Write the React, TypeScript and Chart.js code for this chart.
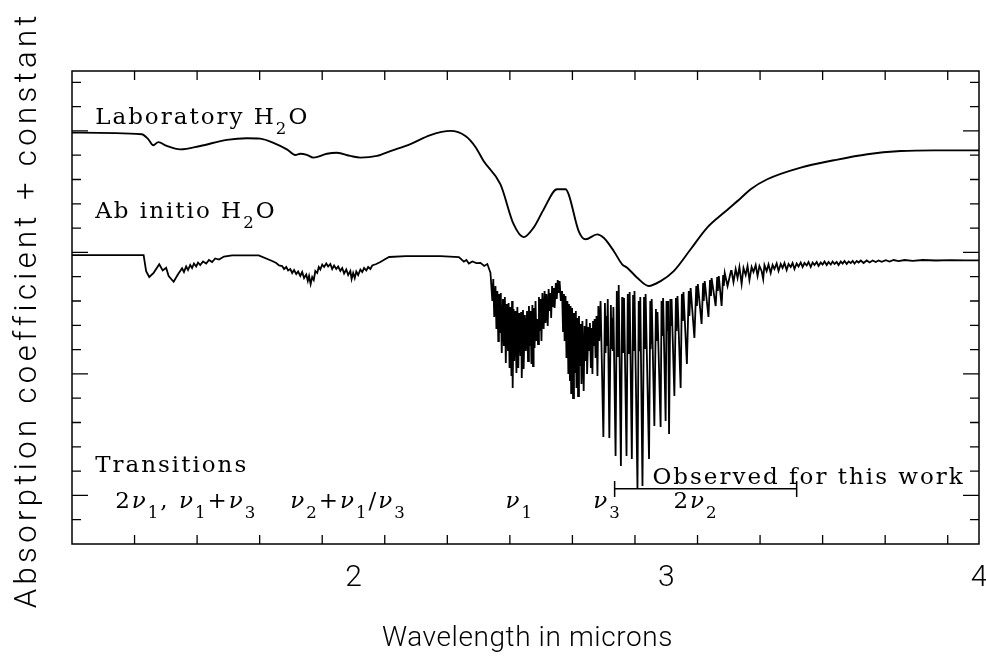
import React, { useEffect, useRef } from 'react';
import { Chart, registerables } from 'chart.js';

Chart.register(...registerables);

// ---------------- DATA ----------------
// Laboratory H2O (smooth measured spectrum), wavelength in microns
const labWavelength = [1.100,1.323,1.343,1.360,1.376,1.403,1.446,1.510,1.595,1.659,1.702,1.744,1.787,1.814,1.830,1.851,1.872,1.915,1.947,1.990,2.022,2.075,2.118,2.182,2.246,2.310,2.358,2.390,2.416,2.470,2.512,2.544,2.576,2.608,2.651,2.678,2.688,2.720,2.742,2.779,2.800,2.832,2.859,2.875,2.907,2.944,2.982,3.024,3.078,3.131,3.184,3.238,3.270,3.323,3.430,3.536,3.643,3.750,3.856,4.000];
const labAbsorption = [16.93,16.86,16.67,16.41,16.54,16.38,16.24,16.38,16.63,16.70,16.68,16.51,16.24,16.01,16.06,16.01,15.90,16.06,16.10,15.97,15.90,15.97,16.17,16.46,16.83,17.00,16.79,16.34,15.76,14.80,13.16,12.63,13.02,13.77,14.60,14.60,14.39,12.88,12.54,12.74,12.60,12.06,11.51,11.37,10.96,10.62,10.82,11.23,12.13,13.02,13.63,14.23,14.60,15.01,15.49,15.79,16.04,16.17,16.20,16.20];

// Ab initio H2O — overtone / combination region
const abOvertoneWavelength = [1.100,1.329,1.337,1.347,1.361,1.379,1.390,1.401,1.409,1.425,1.439,
  1.452,1.458,1.465,1.471,1.478,1.484,1.490,1.497,1.503,1.510,1.519,1.529,1.538,1.548,1.558,1.570,1.586,1.612,
  1.697,
  1.740,1.753,1.762,1.772,1.778,1.785,1.791,1.798,1.804,1.810,1.817,1.823,1.830,1.836,1.842,1.849,1.854,1.858,1.863,1.868,1.873,1.878,1.884,1.889,1.894,1.900,1.906,1.913,1.919,1.926,1.932,1.938,1.945,1.951,1.958,1.964,1.970,1.977,1.983,1.990,1.994,1.999,2.004,2.009,2.015,2.022,2.028,2.034,2.041,2.047,2.054,2.060,2.073,2.086,2.102,2.114,
  2.167,2.278,2.337,2.353,2.361,2.369,2.380,2.393,2.406,2.418,2.428,2.438];
const abOvertoneAbsorption = [11.89,11.89,11.23,10.99,11.16,11.51,11.26,11.37,11.03,10.79,11.10,
  11.346,11.193,11.420,11.276,11.481,11.358,11.543,11.420,11.584,11.481,11.625,11.543,11.687,11.605,11.749,11.708,11.831,11.881,
  11.88,
  11.646,11.564,11.461,11.440,11.317,11.399,11.255,11.317,11.152,11.276,11.111,11.214,11.029,11.193,10.946,11.091,10.823,11.029,10.700,10.988,10.864,11.235,11.152,11.399,11.296,11.502,11.399,11.543,11.420,11.523,11.317,11.461,11.317,11.420,11.235,11.358,11.132,11.296,11.070,11.235,10.905,11.152,10.946,11.214,11.070,11.296,11.193,11.358,11.255,11.399,11.317,11.461,11.523,11.605,11.728,11.811,
  11.85,11.85,11.81,11.62,11.69,11.54,11.63,11.56,11.57,11.44,11.52,11.16];

// Ab initio — nu1 band
const abNu1Wavelength = [2.444,2.447,2.450,2.454,2.457,2.460,2.463,2.465,2.468,2.471,2.474,2.478,2.481,2.484,2.487,2.490,2.494,2.496,2.499,2.502,2.505,2.507,2.509,2.512,2.514,2.518,2.521,2.524,2.527,2.530,2.534,2.536,2.538,2.542,2.544,2.548,2.551,2.555,2.558,2.561,2.564,2.566,2.569,2.572,2.574,2.576,2.579,2.582,2.585,2.587,2.590,2.593,2.595,2.598,2.601,2.604,2.608,2.611,2.614,2.617,2.621,2.624,2.627,2.630,2.632,2.635,2.638,2.641,2.643,2.647,2.650,2.653,2.656,2.659];
const abNu1Absorption = [10.00,10.905,9.342,10.617,8.848,10.412,8.354,10.288,8.683,10.329,7.860,10.082,8.148,10.165,7.449,9.877,7.942,9.918,7.243,9.753,6.914,10.00,6.420,9.671,7.531,9.588,7.037,9.753,7.243,9.506,7.737,9.547,6.831,9.630,7.202,9.424,7.942,9.588,7.531,9.794,8.148,9.588,7.408,9.835,7.325,9.712,8.066,10.00,8.354,9.259,8.231,10.165,8.765,10.082,8.354,10.329,8.848,10.412,9.095,10.288,8.971,10.494,9.588,10.329,9.300,10.617,9.794,10.535,9.712,10.741,10.082,10.864,10.329,10.823];

// Ab initio — nu3 band
const abNu3Wavelength = [2.663,2.667,2.670,2.673,2.675,2.678,2.681,2.684,2.687,2.689,2.692,2.694,2.696,2.699,2.702,2.705,2.708,2.711,2.713,2.716,2.718,2.721,2.723,2.726,2.729,2.732,2.736,2.739,2.742,2.745,2.747,2.751,2.753,2.756,2.759,2.761,2.764,2.766,2.769,2.771,2.774,2.777,2.780,2.783,2.786,2.790];
const abNu3Absorption = [10.00,10.412,8.765,10.288,8.354,10.206,7.654,10.00,7.037,9.877,6.708,9.794,6.173,9.712,6.008,9.506,7.037,9.588,6.420,9.300,6.091,9.383,7.325,9.054,6.585,9.177,6.296,8.971,7.531,9.259,6.996,8.930,7.942,9.095,7.243,8.889,6.996,9.177,8.148,9.259,7.654,9.383,6.914,9.794,8.354,10.00];

// Ab initio — 2nu2 line comb
const abCombWavelength = [2.799,2.804,2.806,2.808,2.810,2.813, 2.818,2.823,2.825,2.827,2.829,2.831, 2.838,2.842,2.8435,2.845,2.8465,2.848, 2.855,2.859,2.8605,2.862,2.8635,2.865, 2.873,2.877,2.8785,2.880,2.8815,2.883, 2.890,2.894,2.8955,2.897,2.898,2.899, 2.908,2.912,2.913,2.9145,2.916,2.917, 2.924,2.929,2.930,2.9315,2.933,2.934, 2.945,2.949,2.950,2.9515,2.953,2.954,
  2.962,2.967,2.969,2.972,2.982,2.985,2.987,2.990,2.998,3.001,3.003,3.006,3.009,3.013,3.015,3.017,3.026,3.031,3.033,3.036,3.046,3.050,3.053,3.055,3.066,3.072,3.074,3.078,3.090,3.096,3.098,3.101,3.113,3.118,3.120,3.123,3.135,3.140,3.143,3.145,3.158,3.163,3.165,3.168,3.177,3.182,3.184,3.187,3.196,3.207];
const abCombAbsorption = [4.404,9.918,7.860,9.383,8.148,10.082, 4.362,9.835,8.025,9.300,7.942,9.753, 3.622,10.412,7.737,9.424,8.066,10.658, 3.210,10.165,8.148,9.342,7.860,10.123, 3.622,10.288,7.860,9.424,8.025,10.370, 3.498,10.247,7.942,9.342,8.148,10.412, 2.305,10.00,8.148,9.465,7.942,10.165, 2.387,10.165,8.354,9.506,8.066,10.288, 3.498,10.00,8.025,9.424,8.231,10.082,
  4.856,9.671,8.354,9.547,4.815,10.00,8.560,10.123,5.062,10.00,8.765,10.00,4.527,10.082,8.971,10.082,6.091,10.123,8.765,10.206,6.420,10.288,9.177,10.370,7.408,10.412,9.383,10.535,8.477,10.617,9.794,10.700,9.054,10.741,10.00,10.823,9.342,10.864,10.206,10.946,9.794,10.988,10.412,11.029,9.794,11.070,10.617,11.152,10.617,11.235];

// Ab initio — long-wavelength tail
const abTailWavelength = [3.209,3.215,3.222,3.228,3.234,3.241,3.247,3.254,3.260,3.266,3.273,3.279,3.286,3.292,3.298,3.305,3.310,3.314,3.321,3.327,3.334,3.340,3.346,3.353,3.359,3.366,3.372,3.378,3.385,3.391,3.398,3.404,3.410,3.417,3.423,3.430,3.436,3.442,3.449,3.455,3.462,3.468,3.474,3.481,3.487,3.494,3.500,3.506,3.513,3.519,3.526,3.532,3.538,3.545,3.551,3.558,3.564,3.570,3.577,3.583,3.590,3.596,3.602,3.609,3.615,3.622,3.631,3.641,3.650,3.660,3.670,3.679,3.689,3.702,3.714,3.727,3.743,3.762,3.788,3.820,3.862,3.910,3.958,4.000];
const abTailAbsorption = [11.235,10.782,11.317,10.946,11.399,10.700,11.358,11.070,11.441,10.864,11.399,11.193,11.481,11.029,11.441,11.235,10.905,11.481,11.235,11.502,11.152,11.481,11.317,11.543,11.235,11.523,11.358,11.564,11.276,11.523,11.399,11.564,11.317,11.543,11.420,11.584,11.399,11.564,11.461,11.605,11.399,11.584,11.481,11.605,11.441,11.584,11.502,11.625,11.481,11.605,11.502,11.625,11.523,11.605,11.481,11.625,11.543,11.646,11.523,11.625,11.564,11.646,11.543,11.646,11.584,11.667,11.564,11.667,11.584,11.667,11.605,11.667,11.613,11.679,11.625,11.687,11.638,11.687,11.654,11.687,11.667,11.679,11.675,11.675];

// "Observed for this work" range (microns) and bracket levels
const observedRange = [2.835, 3.417];
const observedLevel = 2.276;
const observedCap = [1.934, 2.593];

// Axis ticks
const xMin = 1.1;
const xMax = 4.0;
const xTickLabels = [2, 3, 4];
const xMinorStep = 0.2;
const yMin = 0;
const yMax = 19.465;
const yMinorStep = 1;
const yMajorTicks = [2, 7, 12, 17];

const xTitle = 'Wavelength in microns';
const yTitle = 'Absorption coefficient + constant';

// Text annotations (position in data units, '_' marks a subscript)
const annotations = [
  { text: 'Laboratory H_2O', x: 1.174, y: 17.28 },
  { text: 'Ab initio H_2O', x: 1.174, y: 13.40 },
  { text: 'Transitions', x: 1.174, y: 2.975 },
  { text: '2ν_1, ν_1+ν_3', x: 1.238, y: 1.47 },
  { text: 'ν_2+ν_1/ν_3', x: 1.798, y: 1.47 },
  { text: 'ν_1', x: 2.486, y: 1.47 },
  { text: 'ν_3', x: 2.767, y: 1.47 },
  { text: '2ν_2', x: 3.023, y: 1.47 },
  { text: 'Observed for this work', x: 2.956, y: 2.48 },
];

const SERIF = '"DejaVu Serif", "Liberation Serif", serif';
const SANS = 'Roboto, "Liberation Sans", sans-serif';

function zip(xs: number[], ys: number[]) {
  return xs.map((x, i) => ({ x, y: ys[i] }));
}

function drawRich(ctx: CanvasRenderingContext2D, text: string, x: number, y: number, size: number) {
  let cx = x;
  let i = 0;
  while (i < text.length) {
    let ch = text[i];
    let sub = false;
    if (ch === '_' && i + 1 < text.length) {
      sub = true;
      i++;
      ch = text[i];
    }
    const italic = ch === 'ν';
    const fs = sub ? size * 0.72 : size;
    ctx.font = `${italic ? 'italic ' : ''}${fs}px ${SERIF}`;
    ctx.fillText(ch, cx, y + (sub ? size * 0.42 : 0));
    cx += ctx.measureText(ch).width;
    i++;
  }
}

const framePlugin = {
  id: 'frameAndTicks',
  afterDraw(chart: any) {
    const { ctx, chartArea: a, scales } = chart;
    const xs = scales.x;
    const ys = scales.y;
    ctx.save();
    ctx.strokeStyle = '#000';
    ctx.lineWidth = 1.5;
    ctx.strokeRect(a.left, a.top, a.right - a.left, a.bottom - a.top);
    ctx.lineWidth = 1.3;
    ctx.beginPath();
    const nX = Math.round((xMax - xMin) / xMinorStep);
    for (let k = 1; k <= nX; k++) {
      const v = xMin + k * xMinorStep;
      const major = Math.abs(v - Math.round(v)) < 1e-6;
      const len = major ? 17 : 9;
      const px = xs.getPixelForValue(v);
      ctx.moveTo(px, a.bottom);
      ctx.lineTo(px, a.bottom - len);
      ctx.moveTo(px, a.top);
      ctx.lineTo(px, a.top + len);
    }
    for (let v = yMin + yMinorStep; v < yMax; v += yMinorStep) {
      const major = yMajorTicks.includes(v);
      const len = major ? 16 : 9;
      const py = ys.getPixelForValue(v);
      ctx.moveTo(a.left, py);
      ctx.lineTo(a.left + len, py);
      ctx.moveTo(a.right, py);
      ctx.lineTo(a.right - len, py);
    }
    ctx.stroke();

    ctx.fillStyle = '#000';

    // y-axis title (rotated)
    ctx.save();
    ctx.font = `300 31px ${SANS}`;
    (ctx as any).letterSpacing = '0px';
    const w0 = ctx.measureText(yTitle).width;
    const targetLen = a.bottom - a.top + 118;
    const ls = Math.max(0, (targetLen - w0) / (yTitle.length - 1));
    (ctx as any).letterSpacing = `${ls}px`;
    ctx.translate(28, (a.top + a.bottom) / 2 + ls / 2);
    ctx.rotate(-Math.PI / 2);
    ctx.textAlign = 'center';
    ctx.textBaseline = 'middle';
    ctx.fillText(yTitle, 0, 0);
    ctx.restore();

    // x-axis title
    ctx.save();
    ctx.font = `300 28px ${SANS}`;
    (ctx as any).letterSpacing = '0.6px';
    ctx.textAlign = 'center';
    ctx.textBaseline = 'alphabetic';
    ctx.fillText(xTitle, (a.left + a.right) / 2 + 2, 646);
    ctx.restore();

    // annotations
    ctx.textAlign = 'left';
    ctx.textBaseline = 'alphabetic';
    (ctx as any).letterSpacing = '2px';
    for (const an of annotations) {
      drawRich(ctx, an.text, xs.getPixelForValue(an.x), ys.getPixelForValue(an.y), 23);
    }
    ctx.restore();
  },
};

export default function App() {
  const ref = useRef<HTMLCanvasElement | null>(null);
  useEffect(() => {
    document.body.style.margin = '0';
    const canvas = ref.current;
    if (!canvas) return;
    const bracket = [
      { x: observedRange[0], y: observedCap[1] },
      { x: observedRange[0], y: observedCap[0] },
      { x: observedRange[0], y: observedLevel },
      { x: observedRange[1], y: observedLevel },
      { x: observedRange[1], y: observedCap[1] },
      { x: observedRange[1], y: observedCap[0] },
    ];
    const abInitio = [
      ...zip(abOvertoneWavelength, abOvertoneAbsorption),
      ...zip(abNu1Wavelength, abNu1Absorption),
      ...zip(abNu3Wavelength, abNu3Absorption),
      ...zip(abCombWavelength, abCombAbsorption),
      ...zip(abTailWavelength, abTailAbsorption),
    ];
    const chart = new Chart(canvas, {
      type: 'line',
      data: {
        datasets: [
          {
            label: 'Laboratory H2O',
            data: zip(labWavelength, labAbsorption),
            borderColor: '#000',
            borderWidth: 1.9,
            pointRadius: 0,
            cubicInterpolationMode: 'monotone',
            fill: false,
          },
          {
            label: 'Ab initio H2O',
            data: abInitio,
            borderColor: '#000',
            borderWidth: 1.8,
            pointRadius: 0,
            tension: 0,
            fill: false,
          },
          {
            label: 'Observed for this work',
            data: bracket,
            borderColor: '#000',
            borderWidth: 1.5,
            pointRadius: 0,
            tension: 0,
            fill: false,
          },
        ],
      },
      options: {
        animation: false,
        responsive: false,
        maintainAspectRatio: false,
        events: [],
        layout: { padding: { top: 71, right: 7, left: 0, bottom: 0 } },
        plugins: { legend: { display: false }, tooltip: { enabled: false } },
        scales: {
          x: {
            type: 'linear',
            min: xMin,
            max: xMax,
            afterBuildTicks: (s: any) => {
              s.ticks = xTickLabels.map((v) => ({ value: v }));
            },
            afterFit: (s: any) => {
              s.height = 119;
              s.paddingLeft = 0;
              s.paddingRight = 0;
            },
            grid: { display: false, drawTicks: false },
            border: { display: false },
            ticks: {
              color: '#000',
              padding: 16,
              maxRotation: 0,
              autoSkip: false,
              font: { family: SANS, size: 30, weight: '300' },
            },
            title: { display: false },
          },
          y: {
            type: 'linear',
            min: yMin,
            max: yMax,
            afterFit: (s: any) => {
              s.width = 72;
              s.paddingTop = 0;
              s.paddingBottom = 0;
            },
            grid: { display: false, drawTicks: false },
            border: { display: false },
            ticks: { display: false },
            title: { display: false },
          },
        },
      },
      plugins: [framePlugin],
    } as any);
    return () => chart.destroy();
  }, []);
  return (
    <div style={{ position: 'fixed', left: 0, top: 0, width: 986, height: 663, background: '#fff' }}>
      <canvas ref={ref} width={986} height={663} style={{ display: 'block', width: 986, height: 663 }} />
    </div>
  );
}
